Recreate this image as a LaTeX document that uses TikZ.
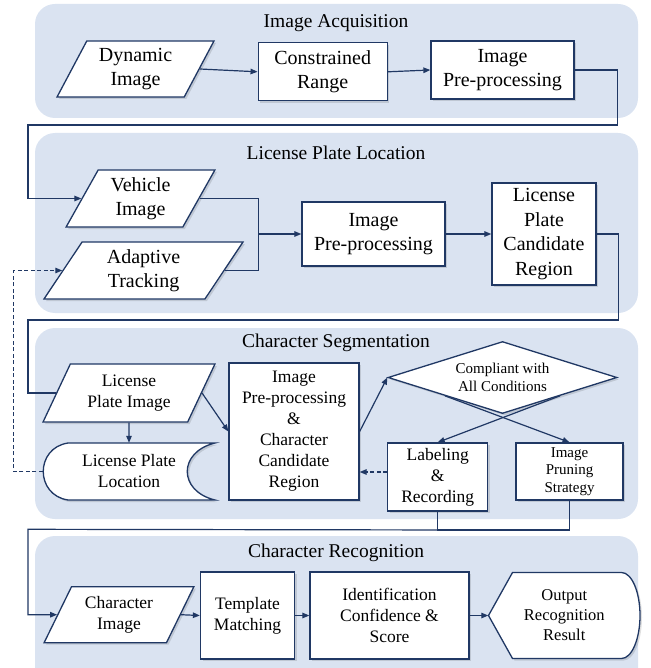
\documentclass[tikz,border=0pt]{standalone}
\usepackage{fontspec}
\setmainfont{LiberationSerif}[Extension=.ttf, UprightFont=*-Regular, BoldFont=*-Bold, ItalicFont=*-Italic, BoldItalicFont=*-BoldItalic]
\usetikzlibrary{positioning,arrows.meta,shapes.geometric,calc,shadows}
\definecolor{lprNavy}{RGB}{32,56,100}
\definecolor{lprPanel}{RGB}{218,227,241}

\begin{document}
\begin{tikzpicture}[x=1pt, y=-1pt,
  panel/.style={fill=lprPanel, rounded corners=20pt},
  stage/.style={font=\fontsize{19.5}{23}\selectfont},
  txtbig/.style={font=\fontsize{20}{24.5}\selectfont},
  txtmid/.style={font=\fontsize{17.5}{21}\selectfont},
  txtsmall/.style={font=\fontsize{15}{17.6}\selectfont},
  box/.style={draw=lprNavy, line width=1.3pt, fill=white, align=center, inner sep=0pt,
    drop shadow={shadow xshift=2pt, shadow yshift=-2pt, fill=black, opacity=.12}},
  io/.style={box, trapezium, trapezium left angle=62, trapezium right angle=118,
    trapezium stretches=true},
  decide/.style={box, diamond, aspect=3.2},
  link/.style={draw=lprNavy, line width=1.2pt, -{Triangle[length=7pt,width=5.5pt]}},
  wire/.style={draw=lprNavy, line width=1.2pt},
  fb/.style={link, dash pattern=on 4pt off 2.5pt},
]
\useasboundingbox (0,0) rectangle (650,668);

% stage panels
\fill[panel] (35,4) rectangle (638,118);
\fill[panel] (35,133) rectangle (638,313);
\fill[panel] (35,328) rectangle (638,519);
\begin{scope}
  \clip (0,0) rectangle (650,668);
  \fill[panel] (35,536) rectangle (638,690);
\end{scope}

% Image Acquisition
\node[stage] (acq) at (336,23) {Image Acquisition};
\node[io, txtbig, minimum width=157pt, minimum height=56pt] (dyn) at (135.5,69) {Dynamic\\Image};
\node[box, txtbig, minimum width=129pt, minimum height=58pt] (con) at (322.7,71.8) {Constrained\\Range};
\node[box, txtbig, minimum width=143pt, minimum height=58pt] (pre1) at (502.5,70) {Image\\Pre-processing};

% License Plate Location
\node[stage] (loc) at (336,153) {License Plate Location};
\node[io, txtbig, minimum width=149pt, minimum height=57pt] (veh) at (140.5,198.5) {Vehicle\\Image};
\node[io, txtbig, minimum width=199pt, minimum height=57pt] (ada) at (143.5,270.5) {Adaptive\\Tracking};
\node[box, txtbig, minimum width=143pt, minimum height=64pt] (pre2) at (373.5,234) {Image\\Pre-processing};
\node[box, txtbig, minimum width=104pt, minimum height=102pt] (lpcr) at (544,234) {License\\Plate\\Candidate\\Region};
\coordinate (join) at ($(pre2.west)+(-43,0)$);

% Character Segmentation
\node[stage] (seg) at (336,343) {Character Segmentation};
\node[io, txtmid, minimum width=172pt, minimum height=58pt] (lpi) at (129,393) {License\\Plate Image};
\coordinate (lplocc) at (129,471.5);
\draw[box] ($(lplocc)+(-61,-28.5)$) -- ($(lplocc)+(86,-28.5)$)
  .. controls ($(lplocc)+(49,-19.5)$) and ($(lplocc)+(49,19.5)$) .. ($(lplocc)+(86,28.5)$)
  -- ($(lplocc)+(-61,28.5)$)
  .. controls ($(lplocc)+(-94,23.5)$) and ($(lplocc)+(-94,-23.5)$) .. cycle;
\node[txtmid, align=center, minimum width=172pt, minimum height=57pt, inner sep=0pt] (lploc) at (lplocc) {License Plate\\Location};
\node[box, txtmid, minimum width=130pt, minimum height=137pt] (cand) at (294,431.5) {Image\\Pre-processing\\\&\\Character\\Candidate\\Region};
\node[decide, txtsmall, minimum width=229pt, minimum height=72pt] (diam) at (502.5,377.5) {Compliant with\\All Conditions};
\node[box, txtmid, minimum width=100pt, minimum height=68pt] (lab) at (437.7,477) {Labeling\\\&\\Recording};
\node[box, txtsmall, minimum width=107pt, minimum height=57pt] (pru) at (569.5,471.5) {Image\\Pruning\\Strategy};

% Character Recognition
\node[stage] (rec) at (336,552.7) {Character Recognition};
\node[io, txtmid, minimum width=150pt, minimum height=56pt] (chimg) at (119,614.7) {Character\\Image};
\node[box, txtmid, minimum width=94pt, minimum height=87pt] (tm) at (247.5,615.5) {Template\\Matching};
\node[box, txtmid, minimum width=159pt, minimum height=87pt] (idc) at (389.5,615.5) {Identification\\Confidence \&\\Score};
\coordinate (outc) at (564,615.5);
\draw[box] ($(outc)+(-75.5,0)$) -- ($(outc)+(-51.5,-43)$) -- ($(outc)+(57.5,-43)$)
  .. controls ($(outc)+(67.7,-43)$) and ($(outc)+(76,-23.7)$) .. ($(outc)+(76,0)$)
  .. controls ($(outc)+(76,23.7)$) and ($(outc)+(67.7,43)$) .. ($(outc)+(57.5,43)$)
  -- ($(outc)+(-51.5,43)$) -- cycle;
\node[font=\fontsize{16.5}{20}\selectfont, align=center, minimum width=151.5pt, minimum height=86pt, inner sep=0pt] (out) at ($(outc)+(0.25,0)$) {Output\\Recognition\\Result};

% connectors
\draw[link] (dyn.east) -- (con.west);
\draw[link] (con.east) -- (pre1.west);
\draw[link] (pre1.east) -- ++(43,0) |- (28,125) |- (veh.west);
\draw[wire] (veh.east) -| (join);
\draw[wire] (ada.east) -| (join);
\draw[link] (join) -- (pre2.west);
\draw[link] (pre2.east) -- (lpcr.west);
\draw[wire] (lpcr.east) -- ++(22,0) |- (28,320) |- (lpi.west);
\draw[link] (lpi.south) -- (lploc.north);
\draw[link] (lpi.east) -- (cand.west);
\draw[link] (cand.east) -- (diam.west);
\draw[link] (diam.south east) -- (lab.north);
\draw[link] (diam.south west) -- (pru.north);
\draw[fb] ([yshift=5pt]lab.west) -- ([yshift=5pt]lab.west -| cand.east);
\draw[fb] (lploc.west) -- ++(-29,0) |- (ada.west);
\draw[wire] (lab.south) -- ++(0,18.3) coordinate (merge) -| (pru.south);
\draw[link] (merge) -- (28,529.3) |- (chimg.west);
\draw[link] (chimg.east) -- (tm.west);
\draw[link] (tm.east) -- (idc.west);
\draw[link] (idc.east) -- (out.west);
\end{tikzpicture}
\end{document}
